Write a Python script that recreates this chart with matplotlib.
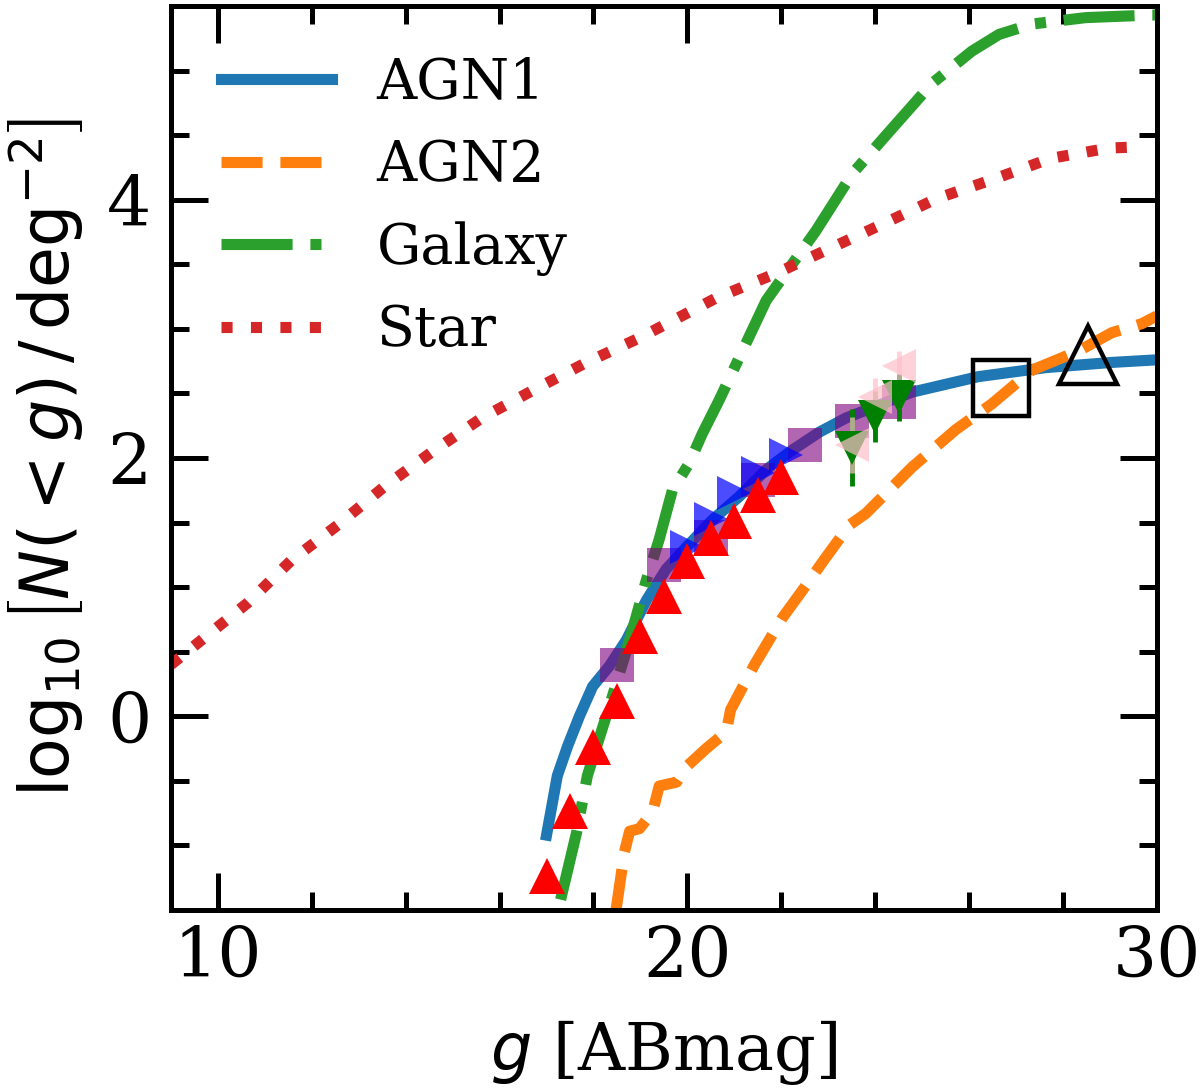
#!/usr/bin/env python3
import numpy as np
import matplotlib
matplotlib.use("Agg")
import matplotlib.pyplot as plt
from matplotlib.ticker import MultipleLocator

# number counts, log10 N(<g) per deg^2
agn1_g = [17.0, 17.23, 17.45, 17.70, 17.98, 18.34, 18.70, 19.13, 19.55, 19.98, 20.53,
          21.10, 21.68, 22.23, 22.81, 23.38, 24.79, 26.2, 27.64, 29.04, 30.0]
agn1_n = [-0.92, -0.46, -0.23, 0.0, 0.23, 0.39, 0.59, 0.90, 1.14, 1.31, 1.52,
          1.70, 1.91, 2.06, 2.20, 2.31, 2.51, 2.63, 2.70, 2.74, 2.76]

agn2_g = [18.48, 18.66, 18.77, 18.98, 19.26, 19.40, 19.77, 19.98, 20.40, 20.83, 20.92,
          21.43, 22.02, 22.5, 22.91, 23.45, 23.8, 24.79, 25.72, 26.49, 27.34, 28.34,
          29.04, 29.68, 30.0]
agn2_n = [-1.50, -1.05, -0.89, -0.87, -0.74, -0.54, -0.51, -0.39, -0.25, -0.12, 0.05,
          0.40, 0.76, 1.00, 1.21, 1.48, 1.57, 1.93, 2.22, 2.42, 2.68, 2.83,
          2.97, 3.04, 3.10]

gal_g = [17.3, 17.64, 17.87, 18.34, 18.77, 19.13, 19.40, 19.68, 20.04, 20.32, 20.68,
         21.68, 22.74, 23.51, 24.26, 25.21, 26.06, 26.64, 27.34, 28.49, 29.89, 30.0]
gal_n = [-1.42, -0.90, -0.46, 0.08, 0.59, 1.06, 1.37, 1.75, 1.96, 2.19, 2.45,
         3.22, 3.76, 4.20, 4.51, 4.90, 5.15, 5.28, 5.36, 5.41, 5.43, 5.43]

star_g = [9.0, 10.64, 11.57, 12.55, 13.55, 14.57, 15.62, 16.74, 17.85, 18.98,
          20.62, 21.89, 23.02, 24.15, 25.32, 26.53, 27.74, 28.98, 29.7]
star_n = [0.40, 0.88, 1.21, 1.48, 1.78, 2.05, 2.31, 2.53, 2.74, 2.93,
          3.24, 3.43, 3.62, 3.81, 4.01, 4.16, 4.32, 4.40, 4.41]

# observed counts
red_g = [17.0, 17.5, 18.0, 18.5, 19.0, 19.5, 20.0, 20.5, 21.0, 21.5, 22.0]
red_n = [-1.24, -0.73, -0.24, 0.12, 0.62, 0.93, 1.20, 1.38, 1.51, 1.71, 1.85]

blue_g = [20.0, 20.5, 21.0, 21.5, 22.1]
blue_n = [1.31, 1.53, 1.73, 1.88, 2.02]

purple_g = [18.5, 19.5, 20.5, 21.5, 22.5, 23.5, 24.5]
purple_n = [0.40, 1.17, 1.39, 1.83, 2.10, 2.29, 2.43]

green_g = [23.5, 24.0, 24.5]
green_n = [2.08, 2.32, 2.47]
green_err = [0.30, 0.20, 0.18]

pink_g = [23.5, 24.0, 24.5]
pink_n = [2.10, 2.47, 2.71]
pink_err = [0.22, 0.15, 0.12]

limit_sq = (26.68, 2.54)
limit_tri = (28.53, 2.80)


def main():
    plt.rcParams['font.family'] = 'serif'
    plt.rcParams['font.serif'] = ['DejaVu Serif']
    plt.rcParams['mathtext.fontset'] = 'dejavusans'

    fig, ax = plt.subplots(figsize=(12, 10.88), dpi=100)
    fig.subplots_adjust(left=0.1425, right=0.964, bottom=0.1636, top=0.9945)

    lw = 8
    ax.plot(agn1_g, agn1_n, color='tab:blue', lw=lw, ls='-', label='AGN1')
    ax.plot(agn2_g, agn2_n, color='tab:orange', lw=lw, ls='--', label='AGN2')
    ax.plot(gal_g, gal_n, color='tab:green', lw=lw, ls='-.', label='Galaxy')
    ax.plot(star_g, star_n, color='tab:red', lw=lw, ls=':', label='Star')

    ax.plot(purple_g, purple_n, 's', color='purple', ms=24, alpha=0.6, mew=0)
    ax.plot(blue_g, blue_n, '>', color='blue', ms=25, alpha=0.7, mew=0)
    ax.errorbar(green_g, green_n, yerr=green_err, fmt='v', color='green',
                ms=25, mew=0, elinewidth=3.5, capsize=0)
    ax.errorbar(pink_g, pink_n, yerr=pink_err, fmt='<', color='pink',
                ms=25, mew=0, elinewidth=3.5, capsize=0, alpha=0.7)
    ax.plot(red_g, red_n, '^', color='red', ms=26, mew=0)

    ax.plot([limit_sq[0]], [limit_sq[1]], 's', mfc='none', mec='black', ms=40, mew=3.2)
    ax.plot([limit_tri[0]], [limit_tri[1]], '^', mfc='none', mec='black', ms=42, mew=3.2)

    ax.set_xlim(9, 30)
    ax.set_ylim(-1.5, 5.5)
    ax.xaxis.set_major_locator(MultipleLocator(10))
    ax.xaxis.set_minor_locator(MultipleLocator(2))
    ax.yaxis.set_major_locator(MultipleLocator(2))
    ax.yaxis.set_minor_locator(MultipleLocator(0.5))

    ax.tick_params(which='both', direction='in', top=True, right=True, width=3.6)
    ax.tick_params(which='major', length=26.5, labelsize=50)
    ax.tick_params(which='minor', length=13)
    ax.tick_params(axis='x', which='major', pad=10)
    ax.tick_params(axis='y', which='major', pad=14)
    for sp in ax.spines.values():
        sp.set_linewidth(3.6)

    ax.set_xlabel(r'$g$ [ABmag]', fontsize=47, labelpad=20)
    ax.set_ylabel(r'$\log_{10}\left[N(<g)\,/\,\mathrm{deg}^{-2}\right]$', fontsize=48,
                  labelpad=16)

    ax.legend(loc='upper left', frameon=False, fontsize=40)

    fig.savefig('out.png', dpi=100)


if __name__ == "__main__":
    main()
